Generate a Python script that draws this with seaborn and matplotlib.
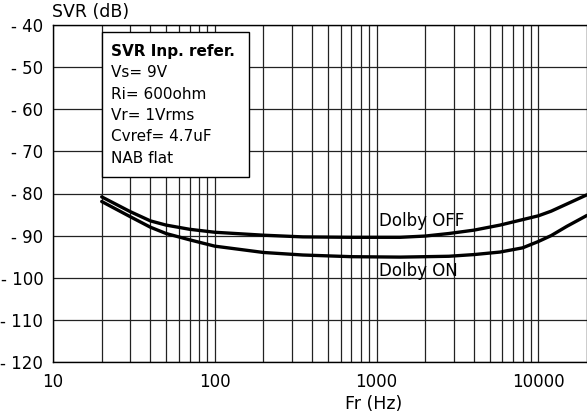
import matplotlib
matplotlib.use("Agg")
import matplotlib.pyplot as plt
import seaborn as sns
import pandas as pd
import numpy as np
from matplotlib.patches import Rectangle
from matplotlib.ticker import FixedLocator, NullFormatter

# frequency points (Hz)
freq = [20, 30, 40, 50, 70, 100, 200, 350, 700, 1400, 2000, 2800,
        4000, 5800, 8000, 10000, 12000, 15000, 20000]
svr_off = [-80.8, -84.3, -86.5, -87.5, -88.5, -89.2, -89.9, -90.3, -90.4,
           -90.4, -90.1, -89.5, -88.7, -87.5, -86.2, -85.3, -84.2, -82.5, -80.3]
svr_on = [-81.9, -85.5, -88.0, -89.5, -91.0, -92.5, -94.0, -94.6, -95.0,
          -95.1, -95.0, -94.9, -94.5, -93.9, -92.9, -91.4, -90.0, -87.8, -85.2]

x_major = [10, 100, 1000, 10000]
x_labels = ["10", "100", "1000", "10000"]
y_ticks = [-40, -50, -60, -70, -80, -90, -100, -110, -120]
y_labels = ["- 40", "- 50", "- 60", "- 70", "- 80", "- 90", "- 100", "- 110", "- 120"]
box_lines = ["Vs= 9V", "Ri= 600ohm", "Vr= 1Vrms", "Cvref= 4.7uF", "NAB flat"]


def main():
    df = pd.DataFrame({
        "Fr": freq * 2,
        "SVR": svr_off + svr_on,
        "mode": ["Dolby OFF"] * len(freq) + ["Dolby ON"] * len(freq),
    })

    sns.set_style("white")
    plt.rcParams["font.family"] = ["DejaVu Sans"]
    plt.rcParams["text.color"] = "black"

    fig = plt.figure(figsize=(5.87, 4.16), dpi=100)
    ax = fig.add_axes([53 / 587, 54 / 416, 534 / 587, 337 / 416])

    sns.lineplot(data=df, x="Fr", y="SVR", hue="mode",
                 palette=["black", "black"], linewidth=2.4,
                 legend=False, ax=ax, zorder=5)

    ax.set_xscale("log")
    ax.set_xlim(10, 20000)
    ax.set_ylim(-120, -40)

    # grid: decades + 2..9 subdivisions up to 10 kHz
    minors = [m * d for d in [10, 100, 1000] for m in range(2, 10)]
    ax.xaxis.set_major_locator(FixedLocator(x_major))
    ax.set_xticklabels(x_labels)
    ax.xaxis.set_minor_locator(FixedLocator(minors))
    ax.xaxis.set_minor_formatter(NullFormatter())
    ax.set_yticks(y_ticks)
    ax.set_yticklabels(y_labels)

    ax.grid(True, which="both", axis="x", color="#222222", linewidth=0.9)
    ax.grid(True, which="major", axis="y", color="#222222", linewidth=0.9)
    ax.tick_params(axis="both", which="both", length=0, labelsize=12,
                   colors="black")
    ax.tick_params(axis="y", pad=7)
    ax.tick_params(axis="x", pad=8)
    for s in ax.spines.values():
        s.set_color("black")
        s.set_linewidth(1.0)

    ax.set_xlabel("")
    ax.set_ylabel("")
    fig.text(374 / 587, 1 - 404 / 416, "Fr (Hz)", ha="center", va="center",
             fontsize=12.5)
    fig.text(52 / 587, 1 - 12 / 416, "SVR (dB)", ha="left", va="center",
             fontsize=12.5)

    # curve labels
    ax.text(1030, -86.6, "Dolby OFF", ha="left", va="center", fontsize=12)
    ax.text(1030, -98.3, "Dolby ON", ha="left", va="center", fontsize=12)

    # info box
    ax.add_patch(Rectangle((0.0918, 0.550), 0.367 - 0.0918, 0.980 - 0.550,
                           transform=ax.transAxes, facecolor="white",
                           edgecolor="black", linewidth=1.0, zorder=6))
    ax.text(0.1086, 0.921, "SVR Inp. refer.", transform=ax.transAxes,
            fontsize=11, fontweight="bold", va="center", ha="left", zorder=7)
    ys = [0.858, 0.795, 0.730, 0.668, 0.605]
    for t, yy in zip(box_lines, ys):
        ax.text(0.1086, yy, t, transform=ax.transAxes, fontsize=11,
                va="center", ha="left", zorder=7)

    fig.savefig("out.png", dpi=100, facecolor="white")


if __name__ == '__main__':
    main()
